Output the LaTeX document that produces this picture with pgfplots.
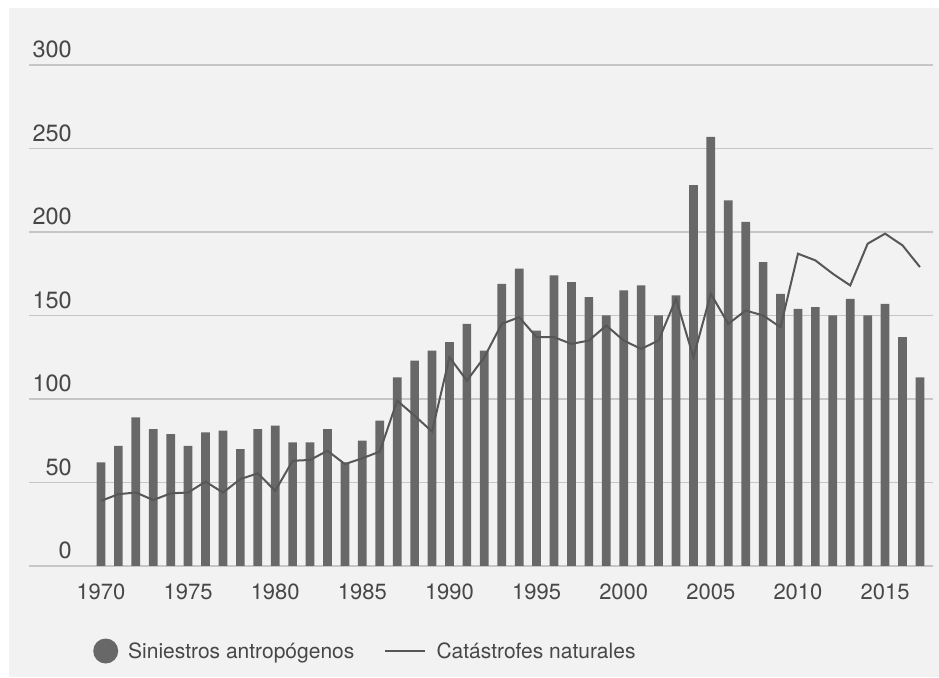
\documentclass[border=0pt]{standalone}
\usepackage{fontspec}
\setmainfont{TeX Gyre Heros}
\usepackage{pgfplots}
\usepackage{pgfplotstable}
\pgfplotsset{compat=1.18}

\definecolor{bgpanel}{HTML}{F2F2F2}
\definecolor{gridgray}{HTML}{C6C6C6}
\definecolor{bargray}{HTML}{686868}
\definecolor{linegray}{HTML}{575757}
\definecolor{txtgray}{HTML}{474747}

% year, man-made disasters (bars), natural catastrophes (line)
\pgfplotstableread{
year man nat
1970 62 39
1971 72 43
1972 89 44
1973 82 39.5
1974 79 43.5
1975 72 44
1976 80 50.5
1977 81 44
1978 70 52
1979 82 55.5
1980 84 45
1981 74 63
1982 74 63.5
1983 82 69
1984 62 61
1985 75 64.5
1986 87 68.5
1987 113 99
1988 123 90
1989 129 80.5
1990 134 125
1991 145 111
1992 129 125
1993 169 145
1994 178 149
1995 141 137
1996 174 137
1997 170 133
1998 161 135
1999 150 144
2000 165 135
2001 168 130
2002 150 135
2003 162 160
2004 228 125
2005 257 163
2006 219 145
2007 206 153
2008 182 150
2009 163 143
2010 154 187
2011 155 183
2012 150 175
2013 160 168
2014 150 193
2015 157 199
2016 137 192
2017 113 179
}\eventtable

\begin{document}
\begin{tikzpicture}
\fill[white] (0pt,0pt) rectangle (939pt,677pt);
\fill[bgpanel] (9pt,0pt) rectangle (939pt,669pt);
\begin{axis}[
  at={(29pt,111pt)}, anchor=south west,
  scale only axis, width=904pt, height=501pt,
  xmin=1965.87, xmax=2017.75, ymin=0, ymax=300,
  axis line style={draw=none},
  tick style={draw=none},
  ymajorgrids, major grid style={gridgray, line width=1.6pt},
  xtick={1970,1975,...,2015}, ytick={0,50,...,300},
  /pgf/number format/assume math mode=true,
  /pgf/number format/set thousands separator={},
  xticklabel style={font=\fontsize{22}{22}\selectfont, text=txtgray,
    anchor=base, inner sep=0pt, yshift=-33pt},
  yticklabel style={font=\fontsize{23.5}{23.5}\selectfont, text=txtgray,
    anchor=base east, inner sep=0pt, xshift=43pt, yshift=7pt},
  legend columns=2,
  legend cell align=left,
  legend style={at={(axis description cs:0.0708,-0.1697)}, anchor=west,
    draw=none, fill=none, inner sep=0pt,
    font=\fontsize{21}{21}\selectfont, text=txtgray,
    nodes={inner sep=0pt},
    /tikz/every odd column/.append style={column sep=10pt},
    /tikz/every even column/.append style={column sep=30pt}},
]
\addplot[ybar, bar width=8.7pt, fill=bargray, draw=none,
  legend image code/.code={\fill[bargray] (12.5pt,0pt) circle (12.5pt);}]
  table[x=year, y=man] {\eventtable};
\addlegendentry{Siniestros antropógenos}
\addplot[sharp plot, no marks, linegray, line width=2pt,
  legend image code/.code={\draw[linegray, line width=2.2pt] (0pt,0pt) -- (40pt,0pt);}]
  table[x=year, y=nat] {\eventtable};
\addlegendentry{Catástrofes naturales}
\end{axis}
\pgfresetboundingbox
\path[use as bounding box] (0pt,0pt) rectangle (939pt,677pt);
\end{tikzpicture}
\end{document}
